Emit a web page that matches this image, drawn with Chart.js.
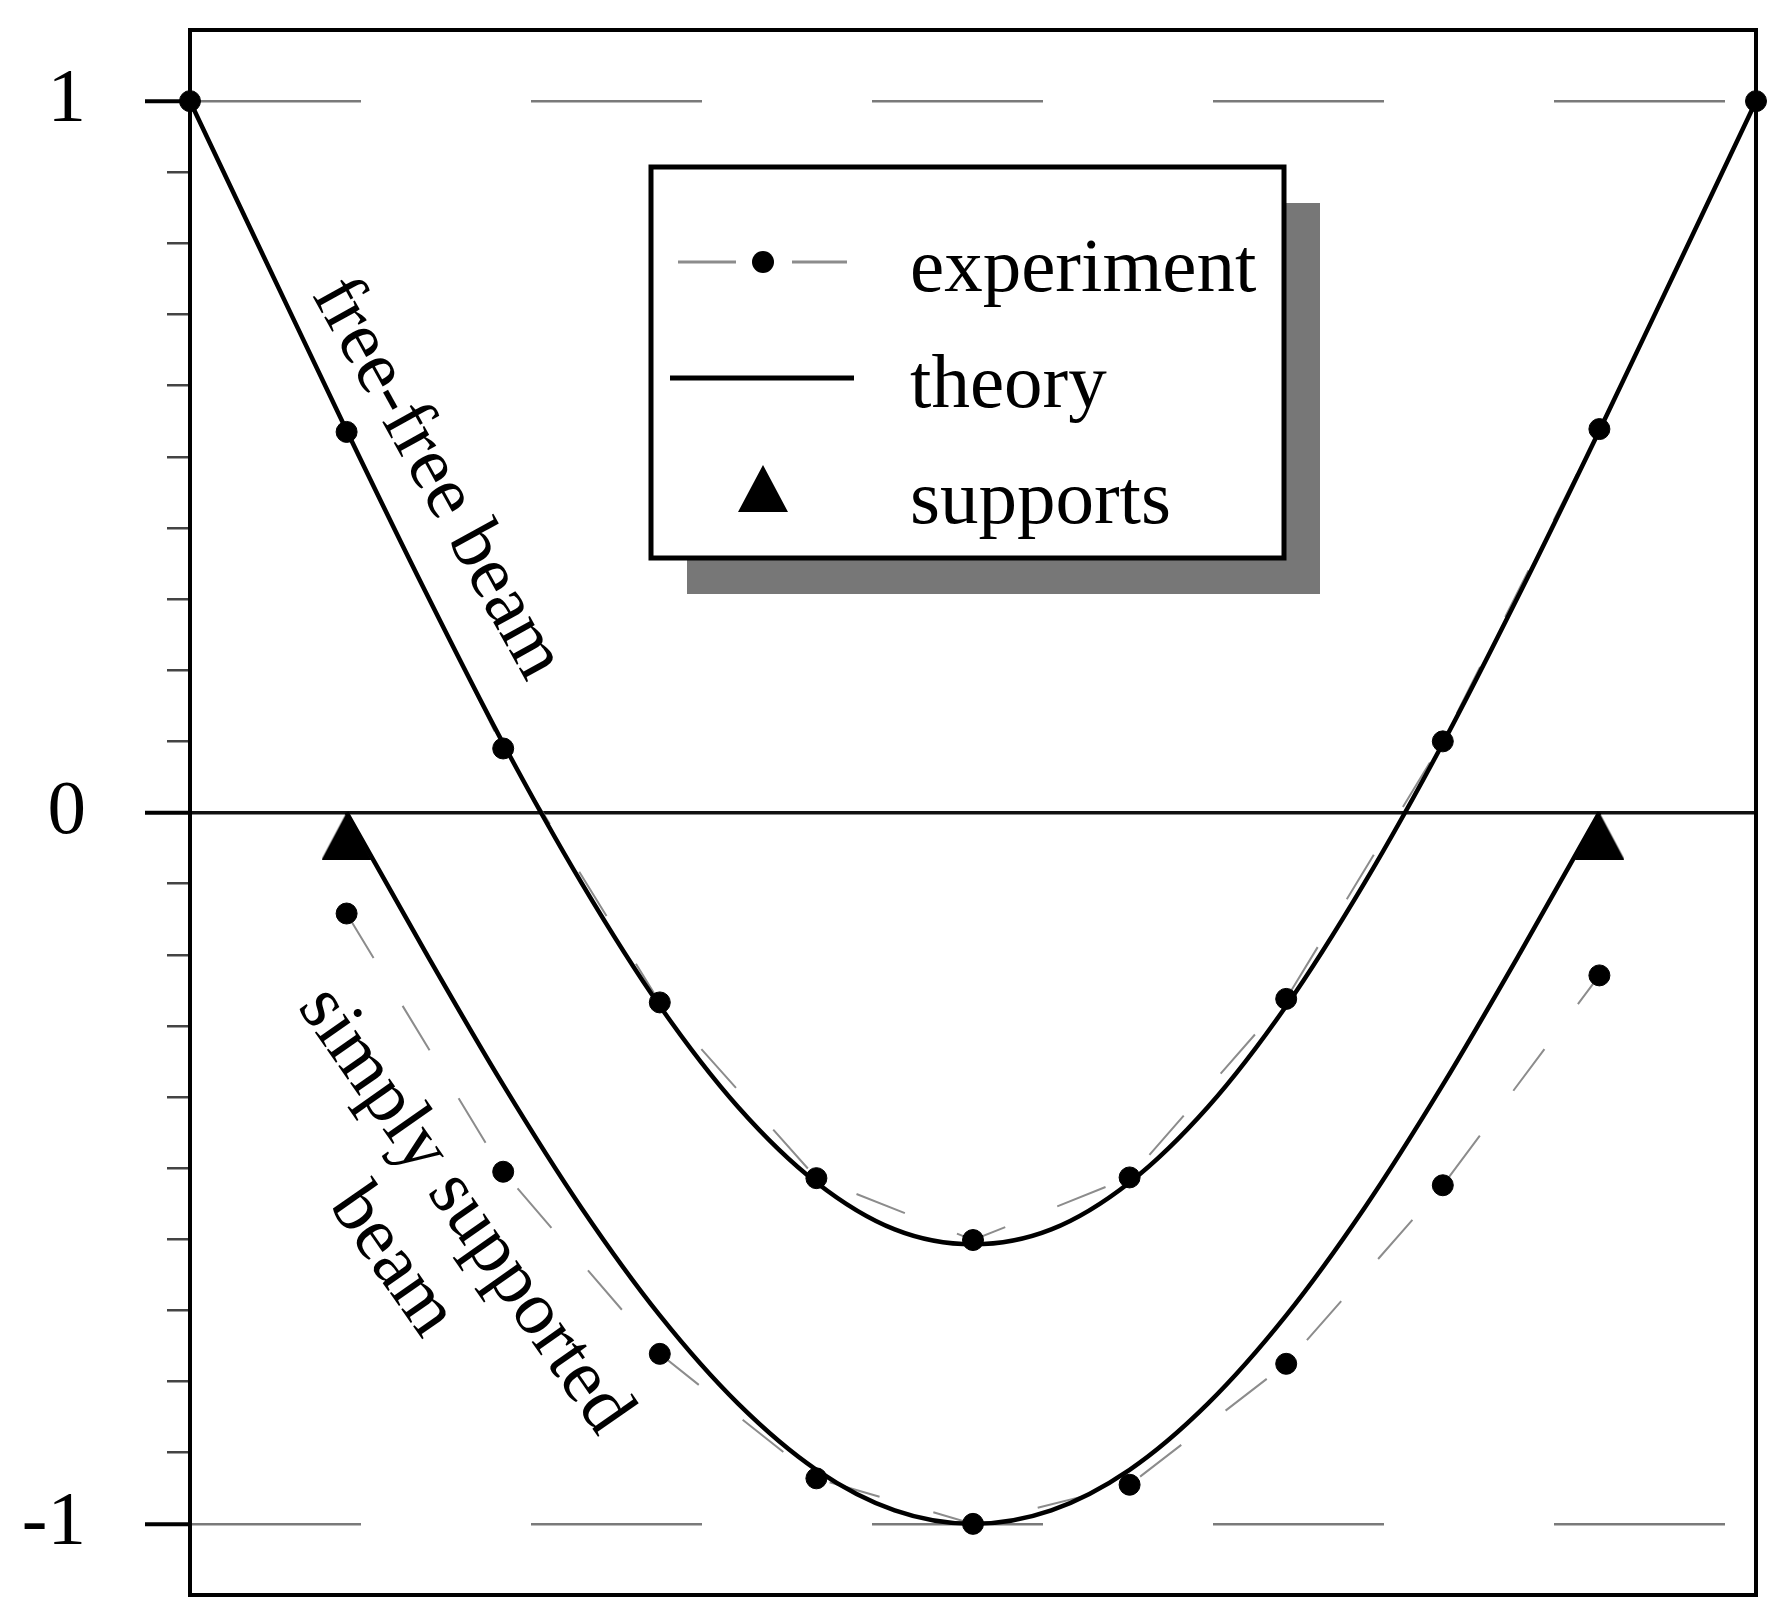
<!DOCTYPE html>
<html>
<head>
<meta charset="utf-8">
<title>free-free and simply supported beam</title>
<script src="https://cdn.jsdelivr.net/npm/chart.js@4.4.0/dist/chart.umd.min.js"></script>
<style>
  html, body { margin: 0; padding: 0; background: #fff; }
  canvas { display: block; }
</style>
</head>
<body>
<canvas class="graf" width="1782" height="1621"></canvas>
<script>
// Measuring stations along the beam
const stations = [0, 1, 2, 3, 4, 5, 6, 7, 8, 9, 10]
const freeFreeExp = [1.0, 0.535, 0.09, -0.267, -0.514, -0.601, -0.513, -0.262, 0.10, 0.539, 1.0]

const simplyStations = [1, 2, 3, 4, 5, 6, 7, 8, 9]
const simplyExp = [-0.142, -0.505, -0.761, -0.936, -1.0, -0.945, -0.775, -0.524, -0.229]

const theoryX = [0, 0.5, 1, 1.5, 2, 2.5, 3, 3.5, 4, 4.5, 5, 5.5, 6, 6.5, 7, 7.5, 8, 8.5, 9, 9.5, 10]
const freeFreeTheory = [1.0, 0.768, 0.537, 0.312, 0.097, -0.099, -0.272, -0.414, -0.520, -0.586, -0.607,
  -0.586, -0.520, -0.414, -0.272, -0.099, 0.097, 0.312, 0.537, 0.768, 1.0]

const simplyTheoryX = [1, 1.5, 2, 2.5, 3, 3.5, 4, 4.5, 5, 5.5, 6, 6.5, 7, 7.5, 8, 8.5, 9]
const simplyTheory = [0, -0.195, -0.383, -0.556, -0.707, -0.831, -0.924, -0.981, -1.0,
  -0.981, -0.924, -0.831, -0.707, -0.556, -0.383, -0.195, 0]

// Supports of the simply supported beam
const supportX = [1, 9]
const supportY = [0, 0]

// Labelled ticks on the y axis
const yTickValues = [-1, 0, 1]
const yTickLabels = ['-1', '0', '1']

const legendLabels = ['experiment', 'theory', 'supports']

const serif = "'Liberation Serif', 'Times New Roman', serif"
const black = '#000'
const expGrey = '#8c8c8c'

const pts = (xs, ys) => xs.map((x, i) => ({x: x, y: ys[i]}))
const near = (a, b) => Math.abs(a - b) < 1e-6
const isMajor = v => yTickValues.some(t => near(v, t))

// triangle with its tip on the data point
function supportMarker(w, h) {
  const c = document.createElement('canvas')
  c.width = w
  c.height = h * 2
  const g = c.getContext('2d')
  g.fillStyle = black
  g.beginPath()
  g.moveTo(w / 2, h)
  g.lineTo(w, h * 2)
  g.lineTo(0, h * 2)
  g.closePath()
  g.fill()
  return c
}
const triangle = supportMarker(50, 47)

// Frame round the plot
const frame = {
  id: 'frame',
  beforeDatasetsDraw(chart) {
    const a = chart.chartArea
    const ctx = chart.ctx
    ctx.save()
    ctx.lineWidth = 4
    ctx.strokeStyle = black
    ctx.strokeRect(a.left, a.top, a.right - a.left, a.bottom - a.top)
    ctx.restore()
  }
}

// Rotated labels next to the curves
const notes = {
  id: 'notes',
  afterDatasetsDraw(chart, args, o) {
    const ctx = chart.ctx
    const sx = chart.scales.x, sy = chart.scales.y
    for (const n of o.items) {
      ctx.save()
      ctx.translate(sx.getPixelForValue(n.x), sy.getPixelForValue(n.y))
      ctx.rotate(n.angle * Math.PI / 180)
      ctx.font = o.size + 'px ' + serif
      ctx.fillStyle = black
      ctx.textAlign = 'center'
      ctx.textBaseline = 'middle'
      n.text.forEach((t, i) => ctx.fillText(t, 0, i * o.lineHeight))
      ctx.restore()
    }
  }
}

// Boxed legend with drop shadow
const boxLegend = {
  id: 'boxLegend',
  afterDraw(chart, args, o) {
    const ctx = chart.ctx
    ctx.save()
    ctx.fillStyle = '#777'
    ctx.fillRect(o.x + o.shadow, o.y + o.shadow, o.w, o.h)
    ctx.fillStyle = '#fff'
    ctx.fillRect(o.x, o.y, o.w, o.h)
    ctx.lineWidth = 5
    ctx.strokeStyle = black
    ctx.strokeRect(o.x, o.y, o.w, o.h)

    legendLabels.forEach((label, i) => {
      const ds = chart.data.datasets.find(d => d.label == label)
      const cy = o.firstRow + i * o.rowGap
      const cx = o.symbolX
      if (ds.pointStyle && typeof ds.pointStyle == 'object') {
        ctx.drawImage(ds.pointStyle, cx - ds.pointStyle.width / 2, cy - 29 - ds.pointStyle.height / 2)
      } else if (ds.pointRadius > 0) {
        ctx.strokeStyle = ds.borderColor
        ctx.lineWidth = 3
        ctx.beginPath()
        ctx.moveTo(cx - 85, cy); ctx.lineTo(cx - 27, cy)
        ctx.moveTo(cx + 29, cy); ctx.lineTo(cx + 84, cy)
        ctx.stroke()
        ctx.fillStyle = black
        ctx.beginPath()
        ctx.arc(cx, cy, 11, 0, Math.PI * 2)
        ctx.fill()
      } else {
        ctx.strokeStyle = ds.borderColor
        ctx.lineWidth = 5
        ctx.beginPath()
        ctx.moveTo(cx - 93, cy); ctx.lineTo(cx + 91, cy)
        ctx.stroke()
      }
      ctx.fillStyle = black
      ctx.font = '77px ' + serif
      ctx.textAlign = 'left'
      ctx.textBaseline = 'alphabetic'
      ctx.fillText(label, o.textX, cy + 29)
    })
    ctx.restore()
  }
}

const ctx = document.querySelector('.graf')
const myChart = new Chart(ctx, {
  type: 'line',
  data: {
    datasets: [{
      label: 'experiment',
      data: pts(stations, freeFreeExp),
      borderColor: expGrey,
      borderWidth: 2,
      borderDash: [52, 56],
      pointRadius: 10.5,
      pointBackgroundColor: black,
      pointBorderColor: black,
      pointBorderWidth: 1,
      order: 3,
      clip: false
    }, {
      label: 'experiment',
      data: pts(simplyStations, simplyExp),
      borderColor: expGrey,
      borderWidth: 2,
      borderDash: [52, 56],
      pointRadius: 10.5,
      pointBackgroundColor: black,
      pointBorderColor: black,
      pointBorderWidth: 1,
      order: 3,
      clip: false
    }, {
      label: 'theory',
      data: pts(theoryX, freeFreeTheory),
      borderColor: black,
      borderWidth: 4.5,
      pointRadius: 0,
      cubicInterpolationMode: 'monotone',
      order: 2
    }, {
      label: 'theory',
      data: pts(simplyTheoryX, simplyTheory),
      borderColor: black,
      borderWidth: 4.5,
      pointRadius: 0,
      cubicInterpolationMode: 'monotone',
      order: 2
    }, {
      label: 'supports',
      data: pts(supportX, supportY),
      showLine: false,
      pointStyle: triangle,
      order: 1,
      clip: false
    }]
  },
  options: {
    responsive: false,
    animation: false,
    events: [],
    layout: {
      padding: {top: 30, right: 26, bottom: 26, left: 0}
    },
    scales: {
      x: {
        type: 'linear',
        min: 0,
        max: 10,
        display: false
      },
      y: {
        type: 'linear',
        min: -1.1,
        max: 1.1,
        afterFit: s => {
          s.width = 190
          s.paddingTop = 0
          s.paddingBottom = 0
        },
        ticks: {
          stepSize: 0.1,
          autoSkip: false,
          padding: 59,
          color: black,
          font: {family: serif, size: 77},
          callback: v => {
            const k = yTickValues.findIndex(t => near(v, t))
            return k < 0 ? '' : yTickLabels[k]
          }
        },
        grid: {
          drawOnChartArea: true,
          drawTicks: true,
          tickLength: 45,
          color: c => {
            if (!c.tick) return 'rgba(0,0,0,0)'
            if (near(c.tick.value, 0)) return '#111'
            if (near(Math.abs(c.tick.value), 1)) return '#7a7a7a'
            return 'rgba(0,0,0,0)'
          },
          lineWidth: c => (c.tick && near(c.tick.value, 0)) ? 3.5 : 2.5,
          tickColor: c => {
            if (!c.tick || Math.abs(c.tick.value) > 1.05) return 'rgba(0,0,0,0)'
            return isMajor(c.tick.value) ? black : '#444'
          },
          tickWidth: c => (c.tick && isMajor(c.tick.value)) ? 4 : 2.5,
          tickBorderDash: c => (c.tick && isMajor(c.tick.value)) ? [] : [0, 22, 100]
        },
        border: {
          display: false,
          dash: c => (c.tick && near(Math.abs(c.tick.value), 1)) ? [171, 170] : []
        }
      }
    },
    plugins: {
      legend: {display: false},
      tooltip: {enabled: false},
      notes: {
        size: 76,
        lineHeight: 88,
        items: [
          {text: ['free-free beam'], x: 1.575, y: 0.469, angle: 61},
          {text: ['simply supported', 'beam'], x: 1.75, y: -0.56, angle: 55}
        ]
      },
      boxLegend: {
        x: 651, y: 167, w: 633, h: 391, shadow: 36,
        symbolX: 763, textX: 910, firstRow: 262, rowGap: 116
      }
    }
  },
  plugins: [frame, notes, boxLegend]
})
</script>
</body>
</html>
